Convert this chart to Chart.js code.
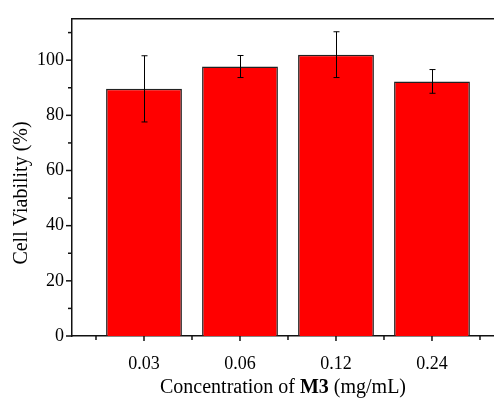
<!DOCTYPE html>
<html>
<head>
<meta charset="utf-8">
<script src="https://cdn.jsdelivr.net/npm/chart.js@4"></script>
<style>
  html, body { margin: 0; padding: 0; background: #fff; overflow: hidden; }
  #wrap { width: 494px; height: 398px; }
</style>
</head>
<body>
<div id="wrap"><canvas id="barChart"></canvas></div>
<script>
// data
const categories = ['0.03', '0.06', '0.12', '0.24'];
const viability = [89.6, 97.7, 102.0, 92.3];
const errors = [12.0, 4.0, 8.3, 4.3];
const yTicks = [0, 20, 40, 60, 80, 100];

const FONT = 'Liberation Serif, Times New Roman, serif';

// error bars, ticks, top frame line and the two axis titles
const extras = {
    id: 'extras',
    afterDatasetsDraw(chart) {
        const ctx = chart.ctx;
        const x = chart.scales.x, y = chart.scales.y;
        ctx.save();
        ctx.strokeStyle = '#000';
        ctx.lineWidth = 1;
        viability.forEach((v, i) => {
            const px = Math.round(x.getPixelForValue(i)) + 0.5;
            const top = y.getPixelForValue(v + errors[i]);
            const bot = y.getPixelForValue(v - errors[i]);
            ctx.beginPath();
            ctx.moveTo(px, top); ctx.lineTo(px, bot);
            ctx.moveTo(px - 3, top); ctx.lineTo(px + 3, top);
            ctx.moveTo(px - 3, bot); ctx.lineTo(px + 3, bot);
            ctx.stroke();
        });
        ctx.restore();
    },
    afterDraw(chart) {
        const ctx = chart.ctx;
        const x = chart.scales.x, y = chart.scales.y;
        const a = chart.chartArea;
        ctx.save();
        ctx.strokeStyle = '#111';
        ctx.lineWidth = 1.5;
        // top frame
        ctx.beginPath();
        ctx.moveTo(a.left, a.top); ctx.lineTo(a.right, a.top);
        ctx.stroke();
        // y ticks: major every 20, minor every 10
        for (let v = 0; v <= 110; v += 10) {
            const py = y.getPixelForValue(v);
            const len = v % 20 === 0 ? 6 : 4;
            ctx.beginPath();
            ctx.moveTo(a.left - len, py); ctx.lineTo(a.left, py);
            ctx.stroke();
        }
        // x ticks: major at categories, minor between
        for (let v = -0.5; v <= 3.5; v += 0.5) {
            const px = x.getPixelForValue(v);
            const len = Number.isInteger(v) ? 5 : 4;
            ctx.beginPath();
            ctx.moveTo(px, a.bottom); ctx.lineTo(px, a.bottom + len);
            ctx.stroke();
        }
        // x title with bold M3
        ctx.fillStyle = '#000';
        ctx.textBaseline = 'alphabetic';
        const parts = [
            ['Concentration of ', '20px ' + FONT],
            ['M3', 'bold 20px ' + FONT],
            [' (mg/mL)', '20px ' + FONT]
        ];
        let total = 0;
        parts.forEach(p => { ctx.font = p[1]; total += ctx.measureText(p[0]).width; });
        let tx = 283 - total / 2;
        parts.forEach(p => {
            ctx.font = p[1];
            ctx.fillText(p[0], tx, 393);
            tx += ctx.measureText(p[0]).width;
        });
        // y title
        ctx.translate(22, 193);
        ctx.rotate(-Math.PI / 2);
        ctx.textAlign = 'center';
        ctx.textBaseline = 'middle';
        ctx.font = '20px ' + FONT;
        ctx.fillText('Cell Viability (%)', 0, 0);
        ctx.restore();
    }
};

new Chart(document.getElementById('barChart'), {
    type: 'bar',
    data: {
        datasets: [{
            data: categories.map((c, i) => ({ x: i, y: viability[i] })),
            backgroundColor: '#ff0000',
            borderColor: '#222',
            borderWidth: 1.5,
            borderSkipped: 'bottom',
            categoryPercentage: 1,
            barPercentage: 0.79
        }]
    },
    options: {
        responsive: true,
        maintainAspectRatio: false,
        animation: false,
        layout: { padding: { top: 16, right: 0, left: 0, bottom: 0 } },
        plugins: { legend: { display: false }, tooltip: { enabled: false } },
        scales: {
            x: {
                type: 'linear',
                offset: false,
                min: -0.75,
                max: 3.646,
                grid: { display: false, drawTicks: false, offset: false },
                border: { display: true, color: '#111', width: 1.5 },
                afterBuildTicks: s => { s.ticks = categories.map((c, i) => ({ value: i })); },
                afterFit: s => { s.height = 62; },
                ticks: {
                    padding: 17,
                    color: '#000',
                    font: { family: FONT, size: 18 },
                    maxRotation: 0,
                    callback: v => categories[v]
                }
            },
            y: {
                min: 0,
                max: 115,
                grid: { display: false, drawTicks: false },
                border: { display: true, color: '#111', width: 1.5 },
                afterBuildTicks: s => { s.ticks = yTicks.map(v => ({ value: v })); },
                afterFit: s => { s.width = 72; },
                ticks: {
                    padding: 8,
                    color: '#000',
                    font: { family: FONT, size: 18 }
                }
            }
        }
    },
    plugins: [extras]
});
</script>
</body>
</html>
